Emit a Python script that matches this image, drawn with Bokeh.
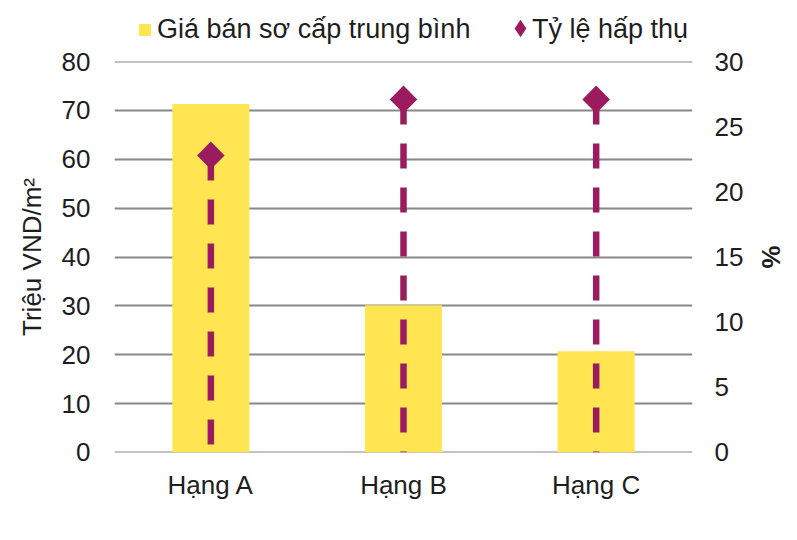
import math
from bokeh.plotting import figure
from bokeh.layouts import column
from bokeh.models import (FactorRange, Range1d, LinearAxis, FixedTicker,
                          Legend, LegendItem)
from bokeh.embed import file_html
from bokeh.resources import INLINE

# ---- data ----
categories = ["Hạng A", "Hạng B", "Hạng C"]
avg_price = [71.3, 30.1, 20.7]        # Triệu VND/m²
absorption = [22.8, 27.1, 27.1]       # %
left_ticks = [0, 10, 20, 30, 40, 50, 60, 70, 80]
right_ticks = [0, 5, 10, 15, 20, 25, 30]
price_label = "Giá bán sơ cấp trung bình"
absorb_label = "Tỷ lệ hấp thụ"
left_title = "Triệu VND/m²"
right_title = "%"

FONT = "Liberation Sans"
TXT = "#1e1e1e"
YELLOW = "#FFE552"
PURPLE = "#9B1C5E"
GRID = "#888888"
FS = "26px"
LFS = "27px"

L_MAX = left_ticks[-1]
R_MAX = right_ticks[-1]
EPS = 0.02  # tiny padding so grid lines at 0 and max are drawn
W = 789

# ---------------- main chart ----------------
p = figure(x_range=FactorRange(*categories),
           y_range=Range1d(-EPS, L_MAX + EPS),
           width=W, height=494,
           output_backend="svg", toolbar_location=None,
           min_border_left=114, min_border_right=97, min_border_top=15,
           min_border_bottom=88, outline_line_color=None,
           background_fill_color="white", border_fill_color="white")
p.extra_y_ranges = {"pct": Range1d(-EPS * R_MAX / L_MAX, R_MAX + EPS * R_MAX / L_MAX)}

p.vbar(x=categories, top=avg_price, width=0.4, fill_color=YELLOW, line_color=None)
p.segment(x0=categories, y0=absorption, x1=categories, y1=[0] * len(absorption),
          y_range_name="pct", line_color=PURPLE, line_width=6.5,
          line_dash="25 19", line_cap="butt")
p.scatter(x=categories, y=absorption, y_range_name="pct", marker="square",
          angle=math.pi / 4, size=19.5, fill_color=PURPLE, line_color=None)

p.xaxis.axis_line_color = None
p.xaxis.major_tick_line_color = None
p.xaxis.minor_tick_line_color = None
p.xaxis.major_tick_out = 0
p.xaxis.major_label_standoff = 17
p.xaxis.major_label_text_font = FONT
p.xaxis.major_label_text_font_size = FS
p.xaxis.major_label_text_color = TXT
p.xgrid.grid_line_color = None

p.yaxis.ticker = FixedTicker(ticks=left_ticks)
p.yaxis.axis_line_color = None
p.yaxis.major_tick_line_color = None
p.yaxis.minor_tick_line_color = None
p.yaxis.major_tick_out = 0
p.yaxis.minor_tick_out = 0
p.yaxis.major_label_standoff = 24
p.yaxis.major_label_text_font = FONT
p.yaxis.major_label_text_font_size = FS
p.yaxis.major_label_text_color = TXT
p.yaxis.axis_label = left_title
p.yaxis.axis_label_standoff = 12
p.yaxis.axis_label_text_font = FONT
p.yaxis.axis_label_text_font_size = FS
p.yaxis.axis_label_text_font_style = "normal"
p.yaxis.axis_label_text_color = TXT
p.ygrid.ticker = FixedTicker(ticks=left_ticks)
p.ygrid.grid_line_color = GRID
p.ygrid.grid_line_width = 2

ra = LinearAxis(y_range_name="pct", ticker=FixedTicker(ticks=right_ticks))
ra.axis_line_color = None
ra.major_tick_line_color = None
ra.minor_tick_line_color = None
ra.major_tick_out = 0
ra.minor_tick_out = 0
ra.major_label_standoff = 22
ra.major_label_text_font = FONT
ra.major_label_text_font_size = FS
ra.major_label_text_color = TXT
ra.axis_label = right_title
ra.axis_label_standoff = 10
ra.axis_label_text_font = FONT
ra.axis_label_text_font_size = FS
ra.axis_label_text_font_style = "bold"
ra.axis_label_text_color = TXT
p.add_layout(ra, "right")

# ---------------- legend strip ----------------
lg = figure(x_range=FactorRange(*categories), y_range=Range1d(1000, 1001),
            width=W, height=46, output_backend="svg", toolbar_location=None,
            x_axis_location=None, y_axis_location=None,
            min_border_left=0, min_border_right=0, min_border_top=0,
            min_border_bottom=0, outline_line_color=None,
            background_fill_color="white", border_fill_color="white")
lg.grid.visible = False
lbars = lg.vbar(x=categories, top=avg_price, width=0.4, fill_color=YELLOW,
                line_color=None)
ldots = lg.scatter(x=categories, y=absorption, marker="diamond",
                   size=19.5, fill_color=PURPLE, line_color=None)

common = dict(padding=0, margin=0, border_line_color=None,
              background_fill_alpha=0, label_text_font=FONT,
              label_text_font_size=LFS, label_text_color=TXT)
leg1 = Legend(items=[LegendItem(label=price_label, renderers=[lbars], index=0)],
              location=(23, 1), glyph_width=15, glyph_height=15,
              label_standoff=5, **common)
# diamond swatch
leg2 = Legend(items=[LegendItem(label=" ", renderers=[ldots], index=0)],
              location=(384, -4), glyph_width=44, glyph_height=44,
              label_standoff=0, label_width=0, **common)
# text of the second legend entry
leg3 = Legend(items=[LegendItem(label=absorb_label, renderers=[ldots], index=0)],
              location=(417, 1), glyph_width=1, glyph_height=1,
              label_standoff=0, **common)
lg.add_layout(leg2)
lg.add_layout(leg1)
lg.add_layout(leg3)

layout = column(lg, p, spacing=0)
open("out.html", "w").write(file_html(layout, INLINE))
